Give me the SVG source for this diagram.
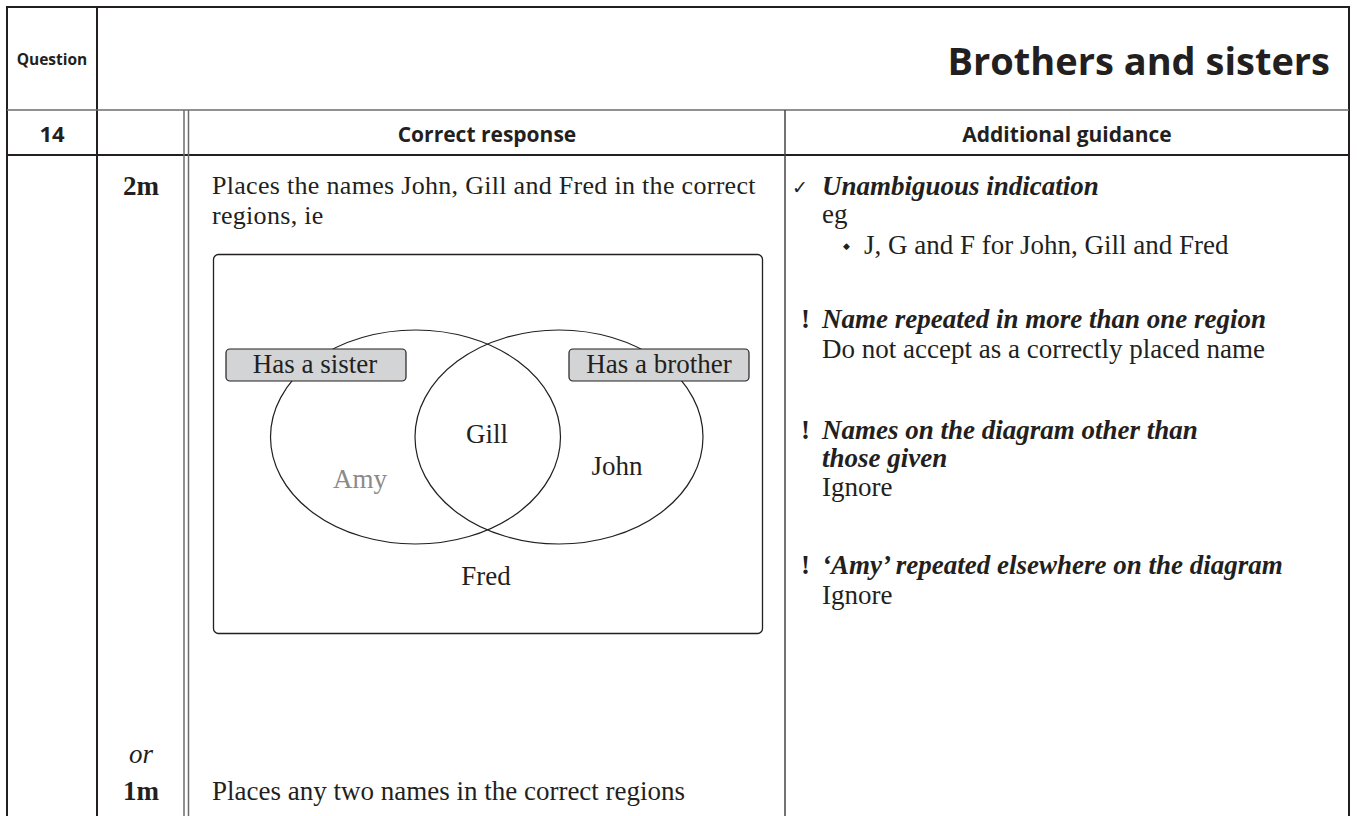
<svg xmlns="http://www.w3.org/2000/svg" width="1357" height="816" viewBox="0 0 1357 816">
<style>
.sans{font-family:"Open Sans","Liberation Sans",sans-serif;font-weight:bold;fill:#231f20}
.serif{font-family:"Liberation Serif","Times New Roman",serif;fill:#231f20;font-size:27px}
.it{font-style:italic;font-weight:bold}
.b{font-weight:bold}
.mid{text-anchor:middle}
.frame{stroke:#231f20;stroke-width:2;fill:none}
.thin{stroke:#444;stroke-width:1.5;fill:none}
.gray{stroke:#6d6d6d;stroke-width:1.5;fill:none}
.venn{stroke:#231f20;stroke-width:1.2;fill:none}
.lbl{fill:#d3d4d5;stroke:#231f20;stroke-width:1.2}
.sym{font-family:"DejaVu Sans",sans-serif;fill:#231f20}
.para{font-size:26px;letter-spacing:0.3px}
</style>
<rect width="1357" height="816" fill="#fff"/>
<g id="frame">
<line class="frame" x1="7" y1="7" x2="7" y2="816"/>
<line class="frame" x1="6" y1="7" x2="1350" y2="7"/>
<line class="frame" x1="1349" y1="7" x2="1349" y2="816"/>
<line class="frame" x1="97" y1="7" x2="97" y2="816"/>
<line class="gray" x1="7" y1="110" x2="1349" y2="110"/>
<line class="frame" x1="7" y1="155" x2="1349" y2="155"/>
<line class="gray" x1="184" y1="110" x2="184" y2="816"/>
<line class="gray" x1="188.5" y1="110" x2="188.5" y2="816"/>
<line class="thin" x1="785" y1="110" x2="785" y2="816"/>
</g>
<g id="header">
<text class="sans mid" x="52" y="65" font-size="15.5">Question</text>
<text class="sans" x="1330" y="75" font-size="38" text-anchor="end">Brothers and sisters</text>
<text class="sans mid" x="52" y="142" font-size="22">14</text>
<text class="sans mid" x="487" y="142" font-size="21">Correct response</text>
<text class="sans mid" x="1067" y="142" font-size="21">Additional guidance</text>
</g>
<g id="marks">
<text class="serif b mid" x="141" y="195">2m</text>
<text class="serif mid" x="141" y="763" font-style="italic">or</text>
<text class="serif b mid" x="141" y="800">1m</text>
</g>
<g id="response">
<text class="serif para" x="212" y="194">Places the names John, Gill and Fred in the correct</text>
<text class="serif para" x="212" y="224">regions, ie</text>
<text class="serif" x="212" y="800">Places any two names in the correct regions</text>
</g>
<g id="venn">
<rect x="213.5" y="254.5" width="549" height="379" rx="5" fill="none" stroke="#231f20" stroke-width="1.3"/>
<ellipse class="venn" cx="415.5" cy="437" rx="145" ry="107"/>
<ellipse class="venn" cx="559" cy="437" rx="144" ry="107"/>
<g id="label-sister">
<rect class="lbl" x="226" y="349" width="180" height="32" rx="4"/>
<text class="serif mid" x="315" y="373">Has a sister</text>
</g>
<g id="label-brother">
<rect class="lbl" x="569" y="349" width="180" height="32" rx="4"/>
<text class="serif mid" x="659" y="373">Has a brother</text>
</g>
<text class="serif mid" x="487" y="443">Gill</text>
<text class="serif mid" x="360" y="488" style="fill:#8a8a8a">Amy</text>
<text class="serif mid" x="617" y="475">John</text>
<text class="serif mid" x="486" y="585">Fred</text>
</g>
<g id="guidance">
<text class="sym" x="792" y="194" font-size="19">✓</text>
<text class="serif it" x="822" y="195">Unambiguous indication</text>
<text class="serif" x="822" y="223">eg</text>
<text class="sym" x="843" y="249" font-size="9">◆</text>
<text class="serif" x="864" y="254">J, G and F for John, Gill and Fred</text>
<text class="serif b" x="801" y="328">!</text>
<text class="serif it" x="822" y="328">Name repeated in more than one region</text>
<text class="serif" x="822" y="358">Do not accept as a correctly placed name</text>
<text class="serif b" x="801" y="439">!</text>
<text class="serif it" x="822" y="439">Names on the diagram other than</text>
<text class="serif it" x="822" y="467">those given</text>
<text class="serif" x="822" y="496">Ignore</text>
<text class="serif b" x="801" y="574">!</text>
<text class="serif it" x="822" y="574">‘Amy’ repeated elsewhere on the diagram</text>
<text class="serif" x="822" y="604">Ignore</text>
</g>
</svg>
